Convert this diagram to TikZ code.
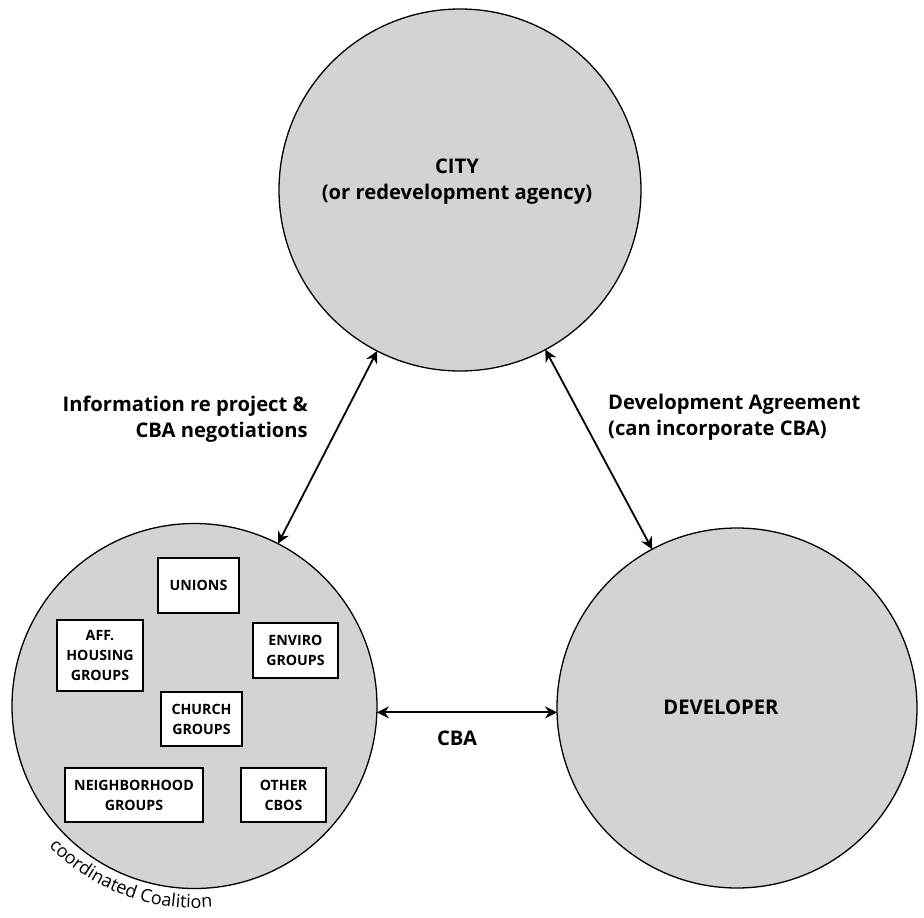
\documentclass[tikz,border=0pt]{standalone}
\usepackage{fontspec}
\setmainfont{Open Sans}
\usetikzlibrary{arrows.meta,decorations.text,calc}
\definecolor{circfill}{RGB}{211,211,211}
\begin{document}
\begin{tikzpicture}[x=1pt,y=-1pt,
  bigcirc/.style={circle,draw=black,line width=1.3pt,fill=circfill,inner sep=0pt,outer sep=0pt},
  grpbox/.style={draw=black,line width=1.4pt,fill=white,inner sep=0pt,align=center,font=\fontsize{14.2}{20}\selectfont\bfseries},
  biglabel/.style={font=\fontsize{20.2}{26}\selectfont\bfseries,inner sep=0pt},
  conn/.style={line width=1.8pt,{Stealth[length=12pt,width=12pt]}-{Stealth[length=12pt,width=12pt]}}
]
\useasboundingbox (0,0) rectangle (924,918);
\fill[white] (0,0) rectangle (924,918);

\node[bigcirc,minimum size=362pt] (city) at (460,190) {};
\node[bigcirc,minimum size=365pt] (coal) at (194.5,706) {};
\node[bigcirc,minimum size=360pt] (dev) at (737,708) {};

\node[biglabel,align=center] (citytxt) at (457,182) {CITY\\(or redevelopment agency)};
\node[biglabel] (devtxt) at (721,707) {DEVELOPER};

\node[grpbox,minimum width=81pt,minimum height=55pt] (unions) at (198.5,585.5) {UNIONS};
\node[grpbox,minimum width=86pt,minimum height=71pt] (aff) at (100,655.5) {AFF.\\HOUSING\\GROUPS};
\node[grpbox,minimum width=85pt,minimum height=55pt] (enviro) at (295.5,650.5) {ENVIRO\\GROUPS};
\node[grpbox,minimum width=81pt,minimum height=54pt] (church) at (201.5,719) {CHURCH\\GROUPS};
\node[grpbox,minimum width=138pt,minimum height=54pt] (neigh) at (134,795) {NEIGHBORHOOD\\GROUPS};
\node[grpbox,minimum width=85pt,minimum height=54pt] (other) at (283.5,795) {OTHER\\CBOS};

\draw[conn] (city) -- (coal);
\draw[conn] (city) -- (dev);
\draw[conn] (coal.-2) -- (dev.west |- coal.-2);

\node[biglabel,align=right,anchor=east] (infolbl) at (308,419.5) {Information re project \&\\CBA negotiations};
\node[biglabel,align=left,anchor=west] (devlbl) at (608,417.5) {Development Agreement\\(can incorporate CBA)};
\node[biglabel] (cbalbl) at (457,738) {CBA};

\begin{scope}[shift={(coal.center)},x=1pt,y=1pt]
\path[decorate,decoration={text along path,text align=center,
  text={|\fontsize{18}{21}\selectfont|coordinated Coalition}}]
  (218:202) arc[start angle=218,end angle=281,radius=202];
\end{scope}
\end{tikzpicture}
\end{document}
